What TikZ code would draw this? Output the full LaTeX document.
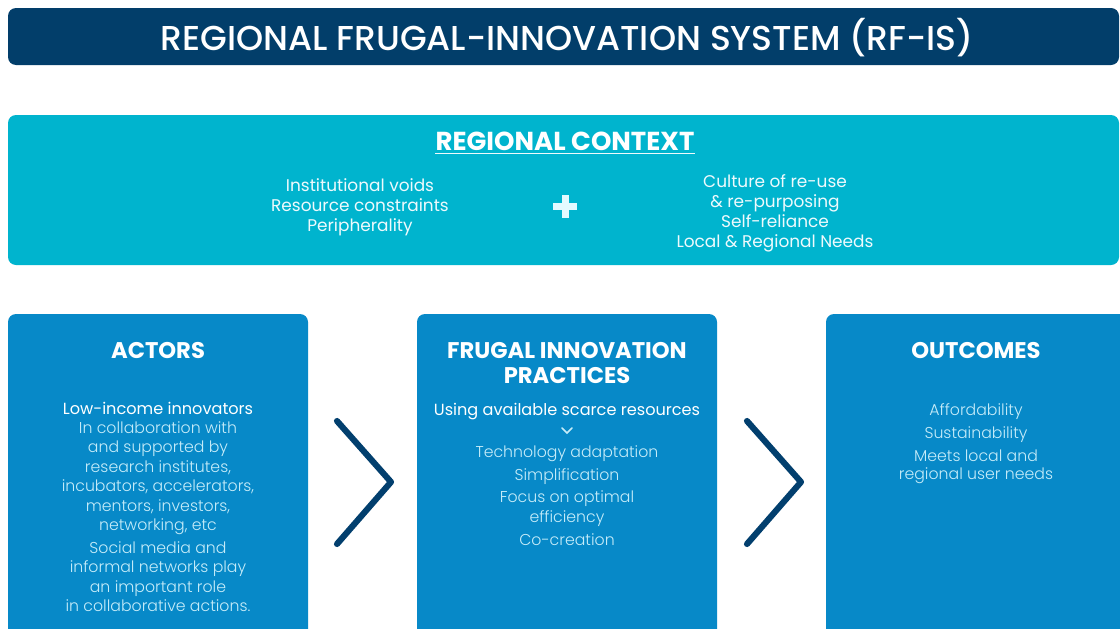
\documentclass[tikz,border=0pt]{standalone}
\usepackage{fontspec}
\setmainfont{Poppins}
\newfontfamily\lightfont{Poppins Light}
\newfontfamily\mediumfont{Poppins Medium}
\definecolor{navy}{HTML}{023E6A}
\definecolor{ctxblue}{HTML}{00B4CE}
\definecolor{boxblue}{HTML}{0789C8}
\definecolor{chevblue}{HTML}{023F6E}
\definecolor{paletext}{HTML}{C6ECF9}
\definecolor{ctxtext}{HTML}{EEFAFD}
\definecolor{plusfill}{HTML}{E4FAFF}
\begin{document}
\begin{tikzpicture}[x=0.75pt,y=-0.75pt,
  panel/.style={rounded corners=6pt},
  titletext/.style={anchor=base,inner sep=0pt,text=white,font=\mediumfont\fontsize{25.9}{30}\selectfont},
  ctxhead/.style={anchor=base,inner sep=0pt,text=white,font=\bfseries\fontsize{19.5}{22}\selectfont},
  ctxline/.style={anchor=base,inner sep=0pt,text=ctxtext,font=\fontsize{12.7}{15}\selectfont},
  boxhead/.style={anchor=base,inner sep=0pt,text=white,font=\bfseries\fontsize{17}{20}\selectfont},
  lead/.style={anchor=base,inner sep=0pt,text=white,font=\fontsize{12.1}{14}\selectfont},
  body/.style={anchor=base,inner sep=0pt,text=paletext,font=\lightfont\fontsize{11.8}{14}\selectfont},
  chevron/.style={draw=chevblue,line width=4.6pt,line cap=round,line join=round}]
\useasboundingbox (0,0) rectangle (1120,628);
\clip (0,0) rectangle (1120,628);
\fill[white] (0,0) rectangle (1120,628);

% title banner
\fill[navy,panel] (8,8) rectangle (1119,65);
\node[titletext] (title) at (567,50) {REGIONAL FRUGAL-INNOVATION SYSTEM (RF-IS)};

% regional context band
\fill[ctxblue,panel] (8,115) rectangle (1119,265);
\node[ctxhead] (ctxh) at (565,150) {REGIONAL CONTEXT};
\draw[ctxtext,line width=1.1pt] ([yshift=-2.6pt]ctxh.base west) -- ([yshift=-2.6pt]ctxh.base east);
\node[ctxline] (l1) at (360,191) {Institutional voids};
\node[ctxline] (l2) at (360,211) {Resource constraints};
\node[ctxline] (l3) at (360,231) {Peripherality};
\fill[plusfill] (553,203) rectangle (577,210);
\fill[plusfill] (562,195) rectangle (569,218);
\node[ctxline] (r1) at (775,187) {Culture of re-use};
\node[ctxline] (r2) at (775,207) {\& re-purposing};
\node[ctxline] (r3) at (775,227) {Self-reliance};
\node[ctxline] (r4) at (775,247) {Local \& Regional Needs};

% three columns
\fill[boxblue,panel] (8,314) rectangle (308,650);
\fill[boxblue,panel] (417,314) rectangle (717,650);
\fill[boxblue,panel] (826,314) rectangle (1140,650);

% actors
\node[boxhead] (acth) at (158,358) {ACTORS};
\node[lead] (a0) at (158,414) {Low-income innovators};
\node[body] (a1) at (158,433) {In collaboration with};
\node[body] (a2) at (158,452) {and supported by};
\node[body] (a3) at (158,472) {research institutes,};
\node[body] (a4) at (158,491) {incubators, accelerators,};
\node[body] (a5) at (158,511) {mentors, investors,};
\node[body] (a6) at (158,530) {networking, etc};
\node[body] (a7) at (158,553) {Social media and};
\node[body] (a8) at (158,572) {informal networks play};
\node[body] (a9) at (158,592) {an important role};
\node[body] (a10) at (158,611) {in collaborative actions.};

% practices
\node[boxhead] (prh1) at (567,358) {FRUGAL INNOVATION};
\node[boxhead] (prh2) at (567,383) {PRACTICES};
\node[lead] (p0) at (567,415) {Using available scarce resources};
\draw[paletext,line width=1.1pt,line cap=round] (562,428) -- (567,433) -- (572,428);
\node[body] (p1) at (567,457) {Technology adaptation};
\node[body] (p2) at (567,480) {Simplification};
\node[body] (p3) at (567,502) {Focus on optimal};
\node[body] (p4) at (567,522) {efficiency};
\node[body] (p5) at (567,545) {Co-creation};

% outcomes
\node[boxhead] (outh) at (976,358) {OUTCOMES};
\node[body] (o1) at (976,415) {Affordability};
\node[body] (o2) at (976,438) {Sustainability};
\node[body] (o3) at (976,461) {Meets local and};
\node[body] (o4) at (976,479) {regional user needs};

% chevrons between the columns
\coordinate (c1a) at (337,421);
\coordinate (c1b) at (391,482);
\coordinate (c1c) at (337,544);
\draw[chevron] (c1a) -- (c1b) -- (c1c);
\coordinate (c2a) at (747,421);
\coordinate (c2b) at (801,482);
\coordinate (c2c) at (747,544);
\draw[chevron] (c2a) -- (c2b) -- (c2c);
\end{tikzpicture}
\end{document}
